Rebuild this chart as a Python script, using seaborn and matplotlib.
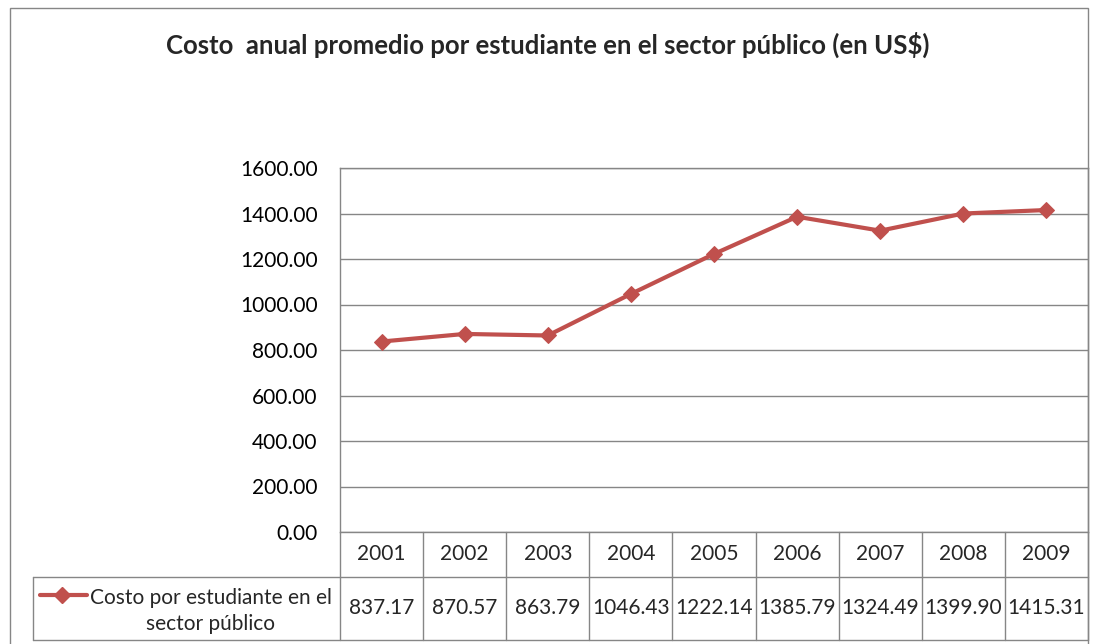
import numpy as np
import pandas as pd
import matplotlib
matplotlib.use('Agg')
import matplotlib.pyplot as plt
import matplotlib.transforms as mtransforms
from matplotlib.lines import Line2D
from matplotlib.patches import Rectangle
import seaborn as sns

years = ['2001', '2002', '2003', '2004', '2005', '2006', '2007', '2008', '2009']
costo = [837.17, 870.57, 863.79, 1046.43, 1222.14, 1385.79, 1324.49, 1399.90, 1415.31]
serie = 'Costo por estudiante en el\nsector público'
titulo = 'Costo  anual promedio por estudiante en el sector público (en US\\$)'
yticks = [0, 200, 400, 600, 800, 1000, 1200, 1400, 1600]

rojo = '#C0504D'
gris = '#868686'

sns.set_style('white')
plt.rcParams['font.family'] = ['Lato', 'DejaVu Sans']

W, H = 1093, 644
fig = plt.figure(figsize=(W / 100, H / 100), dpi=100)

def fx(px):
    return px / W

def fy(py):
    return 1 - py / H

# area de grafico
ax = fig.add_axes([fx(340), fy(532), fx(1088) - fx(340), fy(168) - fy(532)])

df = pd.DataFrame({'anio': years, 'pos': np.arange(len(years)), 'costo': costo})
sns.lineplot(data=df, x='pos', y='costo', marker='D', color=rojo, linewidth=3,
             markersize=8, markeredgecolor=rojo, ax=ax)

ax.set_xlim(-0.5, len(years) - 0.5)
ax.set_ylim(0, 1600)
ax.set_yticks(yticks)
ax.set_yticklabels([f'{v:.2f}' for v in yticks])
ax.set_xticks([])
ax.set_xlabel('')
ax.set_ylabel('')
ax.grid(axis='y', color=gris, linewidth=1)
ax.tick_params(axis='y', length=0, pad=16, labelsize=15, labelcolor='black')
for s in ax.spines.values():
    s.set_color(gris)
    s.set_linewidth(1)

# tabla de datos
tr = mtransforms.blended_transform_factory(ax.transData, fig.transFigure)
y0, y1, y2 = fy(532), fy(577), fy(640)
for i in range(len(years) + 1):
    fig.add_artist(Line2D([i - 0.5, i - 0.5], [y0, y2], transform=tr, color=gris, lw=1))
for yy in (y1, y2):
    fig.add_artist(Line2D([fx(33), fx(1088)], [yy, yy], transform=fig.transFigure, color=gris, lw=1))
fig.add_artist(Line2D([fx(33), fx(33)], [y1, y2], transform=fig.transFigure, color=gris, lw=1))

for i, (a, v) in enumerate(zip(years, costo)):
    fig.text(i, (y0 + y1) / 2, a, transform=tr, ha='center', va='center', fontsize=15)
    fig.text(i, (y1 + y2) / 2, f'{v:.2f}', transform=tr, ha='center', va='center', fontsize=15)

# leyenda dentro de la tabla
fig.add_artist(Line2D([fx(40), fx(87)], [fy(595), fy(595)], transform=fig.transFigure,
                      color=rojo, lw=3))
fig.add_artist(Line2D([fx(62)], [fy(595)], transform=fig.transFigure, marker='D',
                      color=rojo, markersize=8))
fig.text(fx(211), fy(611), serie, ha='center', va='center', fontsize=15, linespacing=1.4)

# borde exterior y titulo
fig.add_artist(Rectangle((fx(10), -0.01), fx(1088) - fx(10), fy(8) + 0.01,
                         transform=fig.transFigure, fill=False, edgecolor=gris, lw=1))
fig.text(fx(548), fy(45), titulo, ha='center', va='center', fontsize=18.5, weight='bold')

fig.savefig('out.png', dpi=100)
